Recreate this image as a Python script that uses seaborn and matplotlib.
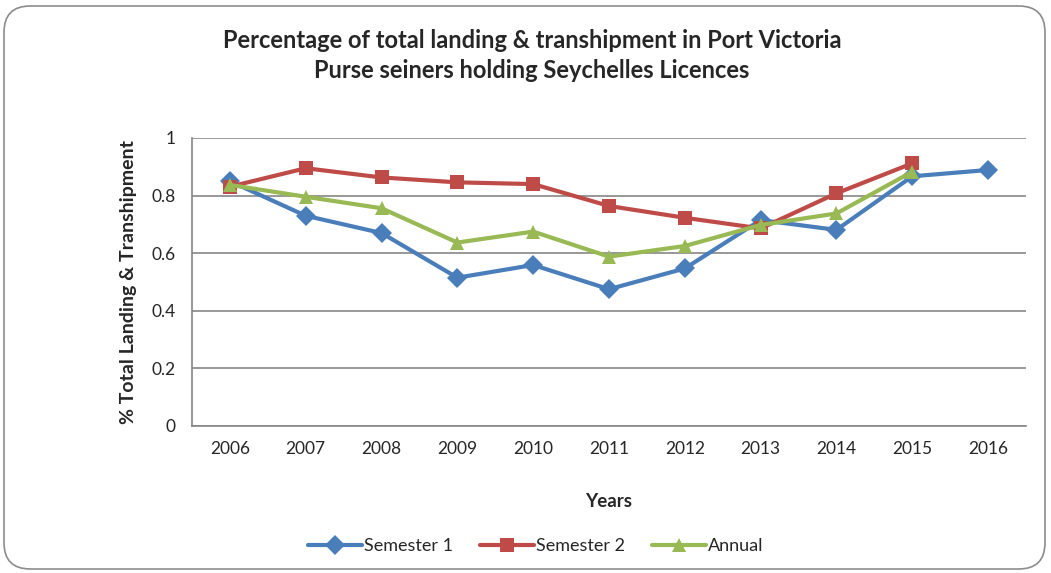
import numpy as np
import pandas as pd
import matplotlib
matplotlib.use("Agg")
import matplotlib.pyplot as plt
import seaborn as sns
from matplotlib.patches import FancyBboxPatch
from matplotlib.ticker import FixedLocator

years = ["2006", "2007", "2008", "2009", "2010", "2011", "2012", "2013", "2014", "2015", "2016"]
semester1 = [0.85, 0.73, 0.67, 0.515, 0.559, 0.475, 0.547, 0.715, 0.681, 0.867, 0.889]
semester2 = [0.831, 0.895, 0.863, 0.846, 0.840, 0.764, 0.723, 0.686, 0.808, 0.912, np.nan]
annual = [0.837, 0.796, 0.756, 0.637, 0.675, 0.588, 0.625, 0.698, 0.738, 0.883, np.nan]
series_names = ["Semester 1", "Semester 2", "Annual"]
colors = ["#4A7EBB", "#BE4B48", "#98B954"]
markers = ["D", "s", "^"]

sns.set_style("white")
plt.rcParams["font.family"] = ["Lato", "DejaVu Sans"]

rows = []
for name, vals in zip(series_names, [semester1, semester2, annual]):
    for i, (y, v) in enumerate(zip(years, vals)):
        if not np.isnan(v):
            rows.append({"pos": i, "Year": y, "value": v, "series": name})
df = pd.DataFrame(rows)

fig = plt.figure(figsize=(10.51, 5.73), dpi=100)
ax = fig.add_axes([192/1051, 1-426/573, (1026-192)/1051, (426-138)/573])

sns.lineplot(data=df, x="pos", y="value", hue="series", style="series",
             hue_order=series_names, style_order=series_names,
             palette=colors, markers=dict(zip(series_names, markers)),
             dashes=False, linewidth=3, markersize=10, markeredgewidth=0,
             ax=ax, legend=False, sort=False)

ax.set_xlim(-0.5, len(years) - 0.5)
ax.set_ylim(0, 1)
ax.set_xticks(range(len(years)))
ax.set_xticklabels(years, fontsize=12.5)
ax.xaxis.set_minor_locator(FixedLocator(np.arange(-0.5, len(years), 1)))
ax.tick_params(axis="x", which="major", length=0, pad=11)
ax.tick_params(axis="x", which="minor", length=6, color="#868686", width=1.2, direction="out")
ax.set_yticks([0, 0.2, 0.4, 0.6, 0.8, 1.0])
ax.set_yticklabels(["0", "0.2", "0.4", "0.6", "0.8", "1"], fontsize=12.5)
ax.tick_params(axis="y", length=6, color="#868686", width=1.2, direction="out", pad=6)
ax.yaxis.grid(True, color="#868686", linewidth=1.2)
ax.set_axisbelow(True)
for s in ["top", "right"]:
    ax.spines[s].set_visible(False)
for s in ["left", "bottom"]:
    ax.spines[s].set_color("#868686")
    ax.spines[s].set_linewidth(1.2)

ax.set_xlabel("Years", fontsize=13.5, fontweight="bold", labelpad=26)
ax.set_ylabel("% Total Landing & Transhipment", fontsize=14, fontweight="bold", labelpad=10)

fig.text(532/1051, 1-40/573, "Percentage of total landing & transhipment in Port Victoria",
         ha="center", va="center", fontsize=17, fontweight="bold")
fig.text(532/1051, 1-71/573, "Purse seiners holding Seychelles Licences",
         ha="center", va="center", fontsize=17, fontweight="bold")

handles = [plt.Line2D([], [], color=c, marker=m, linewidth=3, markersize=10, markeredgewidth=0)
           for c, m in zip(colors, markers)]
fig.legend(handles, series_names, loc="center", bbox_to_anchor=(536/1051, 1-546/573),
           ncol=3, frameon=False, fontsize=13, handlelength=3.0, handletextpad=0.1,
           columnspacing=1.5)

border = FancyBboxPatch((4/1051, 4/573), 1-10/1051, 1-10/573,
                        boxstyle="round,pad=0,rounding_size=0.025",
                        transform=fig.transFigure, facecolor="none",
                        edgecolor="#8c8c8c", linewidth=1.2, mutation_aspect=1051/573)
fig.patches.append(border)

fig.savefig("out.png", dpi=100)
